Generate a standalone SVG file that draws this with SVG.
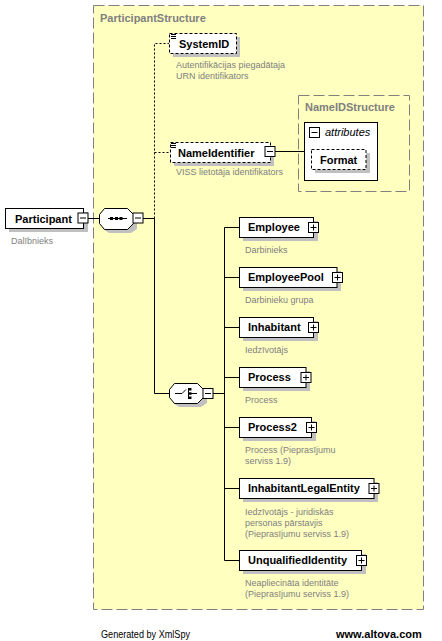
<svg xmlns="http://www.w3.org/2000/svg" width="442" height="641" viewBox="0 0 442 641">
<style>
text{font-family:"Liberation Sans",Arial,sans-serif}
.bg{fill:#ffffff}
.grp{fill:#ffffc0;stroke:#808080;stroke-width:1;stroke-dasharray:11 4}
.gt{font-size:11px;font-weight:bold;fill:#808080}
.box{fill:#ffffff;stroke:#000000;stroke-width:1}
.opt{fill:#ffffff;stroke:#000000;stroke-width:1;stroke-dasharray:3 2}
.sh{fill:#c0c0c0}
.nm{font-size:11px;font-weight:bold;fill:#000000}
.ds{font-size:9px;fill:#808080}
.ln{stroke:#000000;stroke-width:1;fill:none}
.dl{stroke:#000000;stroke-width:1;fill:none;stroke-dasharray:2 2}
.dot{fill:#000000}
</style>
<defs>
<g id="plus"><rect x="0.5" y="0.5" width="10" height="10" class="box"/><path d="M2.5 5.5H8.5M5.5 2.5V8.5" class="ln"/></g>
<g id="minus"><rect x="0.5" y="0.5" width="10" height="10" class="box"/><path d="M2.5 5.5H8.5" class="ln"/></g>
<g id="icon"><path d="M2 0.5H7M2 2.5H7M2 4.5H7" class="ln"/></g>
</defs>
<rect x="0" y="0" width="442" height="641" class="bg"/>
<g id="ParticipantStructure">
<rect x="93.5" y="5.5" width="330" height="604" class="grp"/>
<text x="100" y="22" class="gt">ParticipantStructure</text>
</g>
<g id="NameIDStructure">
<rect x="298.5" y="95.5" width="111" height="96" class="grp"/>
<text x="305" y="111" class="gt">NameIDStructure</text>
</g>
<g id="connectors">
<path d="M88 218.5H99" class="ln"/>
<path d="M143 218.5H154.5" class="ln"/>
<path d="M154.5 218.5V43.5H169" class="dl"/>
<path d="M154.5 152.5H170" class="dl"/>
<path d="M154.5 218.5V393.5H169" class="ln"/>
<path d="M275 151.5H304" class="ln"/>
<path d="M213 393.5H224.5" class="ln"/>
<path d="M224.5 227.5V560.5" class="ln"/>
<path d="M224.5 227.5H239M224.5 277.5H239M224.5 327.5H239M224.5 377.5H239M224.5 427.5H239M224.5 488.5H239M224.5 560.5H239" class="ln"/>
</g>
<g id="Participant">
<rect x="9" y="212" width="79" height="20" class="sh"/>
<rect x="5.5" y="208.5" width="78" height="20" class="box"/>
<text x="15" y="223" class="nm">Participant</text>
<use href="#minus" x="77.5" y="212.5"/>
<text x="11" y="244" class="ds">Dalībnieks</text>
</g>
<g id="sequence">
<polygon points="109,212 131,212 137,218 137,229 131,233 109,233 103,229 103,218" class="sh"/>
<polygon points="104.5,208.5 127.5,208.5 133.5,214.5 133.5,223.5 127.5,229.5 104.5,229.5 99.5,223.5 99.5,214.5" class="box"/>
<path d="M108 218.5H127" class="ln"/>
<rect x="110" y="217" width="3" height="3" class="dot"/>
<rect x="115" y="217" width="3" height="3" class="dot"/>
<rect x="119.5" y="217" width="3" height="3" class="dot"/>
<use href="#minus" x="132.5" y="212.5"/>
</g>
<g id="SystemID">
<rect x="173" y="37" width="67" height="20" class="sh"/>
<rect x="169.5" y="33.5" width="67" height="20" class="opt"/>
<use href="#icon" x="169" y="34"/>
<text x="179" y="48" class="nm">SystemID</text>
<text x="176" y="68" class="ds">Autentifikācijas piegadātaja</text>
<text x="176" y="79" class="ds">URN identifikators</text>
</g>
<g id="NameIdentifier">
<rect x="174" y="146" width="100" height="20" class="sh"/>
<rect x="170.5" y="142.5" width="100" height="20" class="opt"/>
<use href="#icon" x="169" y="143"/>
<text x="178" y="157" class="nm">NameIdentifier</text>
<use href="#minus" x="264.5" y="146"/>
<text x="176" y="175" class="ds">VISS lietotāja identifikators</text>
</g>
<g id="attributes">
<rect x="304.5" y="122.5" width="73" height="58" class="box"/>
<use href="#minus" x="309" y="127"/>
<text x="325" y="136" font-size="11" font-style="italic" fill="#000000">attributes</text>
</g>
<g id="Format">
<rect x="315" y="153" width="55" height="20" class="sh"/>
<rect x="311.5" y="149.5" width="54.5" height="20" class="opt"/>
<text x="320" y="164" class="nm">Format</text>
</g>
<g id="choice">
<polygon points="179,387 201,387 207,393 207,403 201,407 179,407 173,403 173,393" class="sh"/>
<polygon points="174.5,383.5 197.5,383.5 203.5,389.5 203.5,397.5 197.5,403.5 174.5,403.5 169.5,397.5 169.5,389.5" class="box"/>
<path d="M175 393.5H182L186 389.5M188.5 388V399M191 393.5H197" class="ln"/>
<rect x="189" y="388" width="2.5" height="2.5" class="dot"/>
<rect x="189" y="392.3" width="2.5" height="2.5" class="dot"/>
<rect x="189" y="396.5" width="2.5" height="2.5" class="dot"/>
<use href="#minus" x="202.5" y="388"/>
</g>
<g id="Employee">
<rect x="243" y="221" width="75" height="20" class="sh"/>
<rect x="239.5" y="217.5" width="74" height="20" class="box"/>
<text x="248" y="231" class="nm">Employee</text>
<use href="#plus" x="308" y="222"/>
<text x="245" y="253" class="ds">Darbinieks</text>
</g>
<g id="EmployeePool">
<rect x="243" y="271" width="98" height="20" class="sh"/>
<rect x="239.5" y="267.5" width="97.5" height="20" class="box"/>
<text x="248" y="281" class="nm">EmployeePool</text>
<use href="#plus" x="332" y="272"/>
<text x="245" y="303" class="ds">Darbinieku grupa</text>
</g>
<g id="Inhabitant">
<rect x="243" y="321" width="75" height="20" class="sh"/>
<rect x="239.5" y="317.5" width="74" height="20" class="box"/>
<text x="248" y="331" class="nm">Inhabitant</text>
<use href="#plus" x="308" y="322"/>
<text x="245" y="353" class="ds">Iedzīvotājs</text>
</g>
<g id="Process">
<rect x="243" y="371" width="67" height="20" class="sh"/>
<rect x="239.5" y="367.5" width="66.5" height="20" class="box"/>
<text x="248" y="381" class="nm">Process</text>
<use href="#plus" x="300.5" y="372"/>
<text x="245" y="403" class="ds">Process</text>
</g>
<g id="Process2">
<rect x="243" y="421" width="73" height="20" class="sh"/>
<rect x="239.5" y="417.5" width="72" height="20" class="box"/>
<text x="248" y="431" class="nm">Process2</text>
<use href="#plus" x="306" y="422"/>
<text x="245" y="453" class="ds">Process (Pieprasījumu</text>
<text x="245" y="464" class="ds">serviss 1.9)</text>
</g>
<g id="InhabitantLegalEntity">
<rect x="243" y="482" width="135" height="20" class="sh"/>
<rect x="239.5" y="478.5" width="134.5" height="20" class="box"/>
<text x="248" y="492" class="nm">InhabitantLegalEntity</text>
<use href="#plus" x="368.5" y="483"/>
<text x="245" y="514.5" class="ds">Iedzīvotājs - juridiskās</text>
<text x="245" y="525.5" class="ds">personas pārstavjis</text>
<text x="245" y="536.5" class="ds">(Pieprasījumu serviss 1.9)</text>
</g>
<g id="UnqualifiedIdentity">
<rect x="243" y="554" width="123" height="20" class="sh"/>
<rect x="239.5" y="550.5" width="122" height="20" class="box"/>
<text x="248" y="564" class="nm">UnqualifiedIdentity</text>
<use href="#plus" x="356" y="555"/>
<text x="245" y="586" class="ds">Neapliecināta identitāte</text>
<text x="245" y="597" class="ds">(Pieprasījumu serviss 1.9)</text>
</g>
<g id="footer">
<text x="101" y="638" font-size="11.5" textLength="89" lengthAdjust="spacingAndGlyphs" fill="#000000">Generated by XmlSpy</text>
<text x="336" y="638" font-size="11" font-weight="bold" fill="#000000">www.altova.com</text>
</g>
</svg>
